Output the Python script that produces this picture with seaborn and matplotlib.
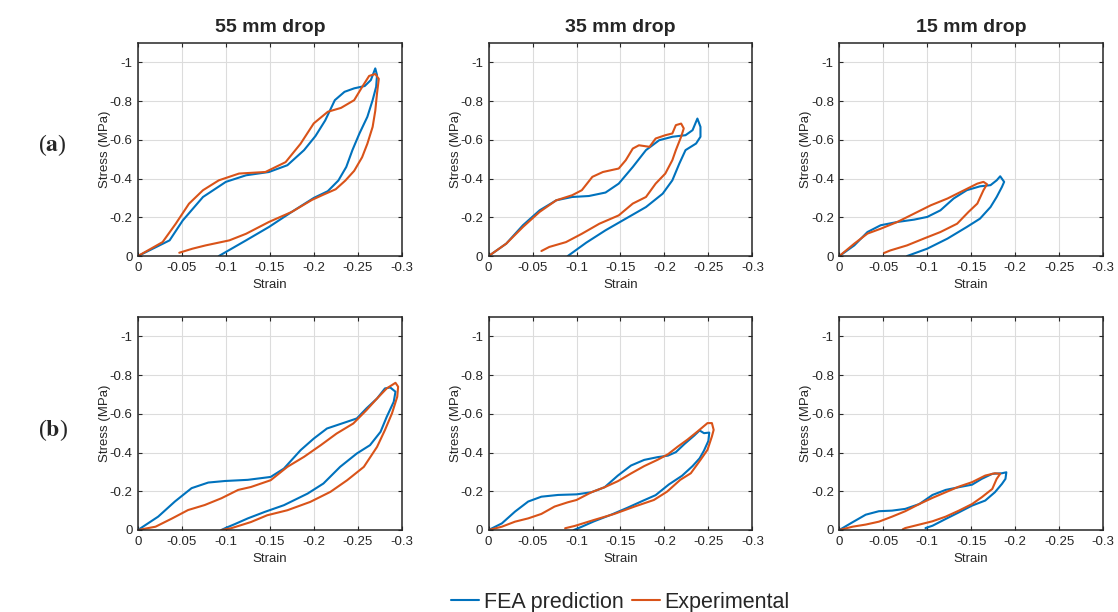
import numpy as np
import matplotlib
matplotlib.use("Agg")
import matplotlib.pyplot as plt
import seaborn as sns

# drop heights (columns) and row tags
drops = ['55 mm drop', '35 mm drop', '15 mm drop']
row_tags = ['a', 'b']
series_names = ['FEA prediction', 'Experimental']

x_ticks = [0, -0.05, -0.1, -0.15, -0.2, -0.25, -0.3]
x_tick_labels = ['0', '-0.05', '-0.1', '-0.15', '-0.2', '-0.25', '-0.3']
y_ticks = [0, -0.2, -0.4, -0.6, -0.8, -1.0]
y_tick_labels = ['0', '-0.2', '-0.4', '-0.6', '-0.8', '-1']

# ---- row (a) ----
a55_fea_strain = [0, -0.02, -0.036, -0.051, -0.074, -0.1, -0.123, -0.149, -0.17, -0.189, -0.202, -0.213, -0.224, -0.235, -0.246, -0.258, -0.265, -0.27, -0.272,
                  -0.271, -0.267, -0.261, -0.252, -0.244, -0.237, -0.228, -0.216, -0.2, -0.175, -0.149, -0.123, -0.1, -0.092]
a55_fea_stress = [0, -0.045, -0.081, -0.184, -0.305, -0.383, -0.417, -0.434, -0.469, -0.547, -0.62, -0.7, -0.805, -0.848, -0.866, -0.878, -0.909, -0.969, -0.934,
                  -0.874, -0.805, -0.719, -0.633, -0.547, -0.46, -0.39, -0.335, -0.3, -0.228, -0.15, -0.081, -0.021, 0]
a55_exp_strain = [0, -0.028, -0.043, -0.058, -0.074, -0.092, -0.115, -0.145, -0.168, -0.185, -0.2, -0.216, -0.231, -0.246, -0.256, -0.263, -0.27, -0.274,
                  -0.272, -0.27, -0.267, -0.261, -0.255, -0.246, -0.236, -0.225, -0.21, -0.198, -0.175, -0.149, -0.123, -0.104, -0.077, -0.062, -0.047]
a55_exp_stress = [0, -0.072, -0.167, -0.27, -0.34, -0.391, -0.426, -0.434, -0.485, -0.58, -0.685, -0.745, -0.765, -0.805, -0.88, -0.93, -0.94, -0.915,
                  -0.84, -0.75, -0.667, -0.58, -0.51, -0.44, -0.39, -0.345, -0.315, -0.29, -0.228, -0.176, -0.115, -0.081, -0.055, -0.038, -0.017]

a35_fea_strain = [0, -0.02, -0.039, -0.058, -0.077, -0.095, -0.114, -0.133, -0.148, -0.164, -0.179, -0.194, -0.209, -0.224, -0.232, -0.2375, -0.241,
                  -0.241, -0.236, -0.224, -0.217, -0.209, -0.198, -0.179, -0.156, -0.133, -0.111, -0.09]
a35_fea_stress = [0, -0.064, -0.159, -0.236, -0.288, -0.305, -0.31, -0.328, -0.374, -0.46, -0.547, -0.598, -0.616, -0.624, -0.65, -0.71, -0.667,
                  -0.616, -0.581, -0.547, -0.478, -0.391, -0.322, -0.253, -0.193, -0.133, -0.069, 0]
a35_exp_strain = [0, -0.02, -0.039, -0.058, -0.077, -0.095, -0.106, -0.118, -0.13, -0.148, -0.156, -0.164, -0.171, -0.183, -0.19, -0.201, -0.209, -0.213, -0.219, -0.222,
                  -0.219, -0.213, -0.209, -0.201, -0.19, -0.179, -0.164, -0.148, -0.126, -0.106, -0.088, -0.069, -0.06]
a35_exp_stress = [0, -0.064, -0.15, -0.228, -0.288, -0.314, -0.34, -0.409, -0.434, -0.452, -0.495, -0.555, -0.572, -0.564, -0.607, -0.624, -0.633, -0.676, -0.684, -0.659,
                  -0.616, -0.547, -0.495, -0.426, -0.374, -0.305, -0.271, -0.21, -0.167, -0.115, -0.072, -0.047, -0.026]

a15_fea_strain = [0, -0.017, -0.032, -0.047, -0.066, -0.085, -0.1, -0.115, -0.13, -0.145, -0.16, -0.172, -0.179, -0.183, -0.1875,
                  -0.185, -0.179, -0.172, -0.16, -0.145, -0.123, -0.1, -0.077]
a15_fea_stress = [0, -0.055, -0.124, -0.159, -0.176, -0.188, -0.202, -0.236, -0.297, -0.34, -0.36, -0.366, -0.391, -0.412, -0.383,
                  -0.357, -0.305, -0.253, -0.193, -0.15, -0.09, -0.038, 0]
a15_exp_strain = [0, -0.017, -0.032, -0.047, -0.066, -0.085, -0.104, -0.123, -0.142, -0.157, -0.164, -0.168,
                  -0.164, -0.157, -0.147, -0.134, -0.115, -0.096, -0.077, -0.058, -0.051]
a15_exp_stress = [0, -0.064, -0.116, -0.141, -0.176, -0.219, -0.262, -0.297, -0.34, -0.374, -0.383, -0.371,
                  -0.34, -0.271, -0.228, -0.167, -0.124, -0.09, -0.055, -0.029, -0.016]

# ---- row (b) ----
b55_fea_strain = [0, -0.023, -0.042, -0.061, -0.08, -0.099, -0.125, -0.151, -0.166, -0.185, -0.2, -0.215, -0.234, -0.249, -0.26, -0.272, -0.281, -0.287, -0.293,
                  -0.291, -0.283, -0.276, -0.264, -0.249, -0.23, -0.211, -0.193, -0.166, -0.144, -0.125, -0.11, -0.099, -0.095]
b55_fea_stress = [0, -0.069, -0.147, -0.216, -0.245, -0.253, -0.259, -0.274, -0.317, -0.412, -0.472, -0.524, -0.553, -0.576, -0.628, -0.679, -0.731, -0.736, -0.714,
                  -0.662, -0.584, -0.507, -0.438, -0.395, -0.326, -0.24, -0.188, -0.128, -0.093, -0.06, -0.03, -0.009, 0]
b55_exp_strain = [0, -0.02, -0.039, -0.057, -0.076, -0.095, -0.114, -0.1285, -0.151, -0.17, -0.189, -0.208, -0.226, -0.245, -0.26, -0.272, -0.283, -0.293, -0.296,
                  -0.295, -0.289, -0.281, -0.272, -0.257, -0.238, -0.219, -0.196, -0.17, -0.147, -0.1285, -0.106, -0.095]
b55_exp_stress = [0, -0.017, -0.06, -0.103, -0.129, -0.164, -0.207, -0.222, -0.257, -0.326, -0.378, -0.438, -0.498, -0.55, -0.619, -0.679, -0.731, -0.76, -0.74,
                  -0.688, -0.602, -0.516, -0.429, -0.326, -0.257, -0.197, -0.145, -0.102, -0.076, -0.041, -0.009, 0]

b35_fea_strain = [0, -0.015, -0.03, -0.045, -0.06, -0.079, -0.1, -0.117, -0.132, -0.147, -0.162, -0.177, -0.192, -0.204, -0.213, -0.223, -0.234, -0.24, -0.245, -0.251,
                  -0.25, -0.245, -0.24, -0.232, -0.22, -0.205, -0.19, -0.175, -0.158, -0.14, -0.12, -0.105, -0.097]
b35_fea_stress = [0, -0.034, -0.095, -0.147, -0.172, -0.181, -0.184, -0.195, -0.221, -0.281, -0.333, -0.362, -0.376, -0.384, -0.402, -0.445, -0.488, -0.514, -0.5, -0.503,
                  -0.46, -0.41, -0.37, -0.33, -0.28, -0.235, -0.18, -0.15, -0.115, -0.08, -0.045, -0.015, 0]
b35_exp_strain = [0, -0.015, -0.03, -0.045, -0.06, -0.075, -0.09, -0.1, -0.117, -0.132, -0.147, -0.162, -0.177, -0.192, -0.204, -0.215, -0.226, -0.238, -0.249, -0.254, -0.256,
                  -0.254, -0.249, -0.241, -0.23, -0.218, -0.203, -0.188, -0.166, -0.143, -0.12, -0.098, -0.087]
b35_exp_stress = [0, -0.017, -0.043, -0.06, -0.083, -0.121, -0.143, -0.155, -0.195, -0.221, -0.252, -0.292, -0.33, -0.362, -0.391, -0.43, -0.466, -0.51, -0.552, -0.552, -0.517,
                  -0.483, -0.414, -0.362, -0.293, -0.259, -0.198, -0.155, -0.121, -0.083, -0.052, -0.021, -0.009]

b15_fea_strain = [0, -0.015, -0.03, -0.045, -0.06, -0.075, -0.091, -0.106, -0.121, -0.136, -0.151, -0.162, -0.174, -0.185, -0.19,
                  -0.189, -0.185, -0.177, -0.166, -0.151, -0.136, -0.121, -0.106, -0.098]
b15_fea_stress = [0, -0.04, -0.079, -0.097, -0.1, -0.109, -0.134, -0.181, -0.207, -0.221, -0.234, -0.264, -0.29, -0.293, -0.298,
                  -0.264, -0.238, -0.195, -0.152, -0.126, -0.091, -0.057, -0.022, -0.01]
b15_exp_strain = [0, -0.015, -0.03, -0.045, -0.06, -0.075, -0.091, -0.106, -0.121, -0.136, -0.151, -0.166, -0.177, -0.183,
                  -0.179, -0.174, -0.162, -0.151, -0.136, -0.121, -0.106, -0.091, -0.075, -0.072]
b15_exp_stress = [0, -0.017, -0.028, -0.043, -0.069, -0.097, -0.134, -0.166, -0.195, -0.224, -0.247, -0.281, -0.293, -0.29,
                  -0.264, -0.212, -0.169, -0.134, -0.1, -0.069, -0.045, -0.028, -0.01, -0.003]

panels = [
    [(a55_fea_strain, a55_fea_stress, a55_exp_strain, a55_exp_stress),
     (a35_fea_strain, a35_fea_stress, a35_exp_strain, a35_exp_stress),
     (a15_fea_strain, a15_fea_stress, a15_exp_strain, a15_exp_stress)],
    [(b55_fea_strain, b55_fea_stress, b55_exp_strain, b55_exp_stress),
     (b35_fea_strain, b35_fea_stress, b35_exp_strain, b35_exp_stress),
     (b15_fea_strain, b15_fea_stress, b15_exp_strain, b15_exp_stress)],
]

blue = '#0072BD'
orange = '#D95319'

sns.set_theme(style="ticks")
plt.rcParams['font.family'] = ['Liberation Sans', 'DejaVu Sans']
plt.rcParams['mathtext.fontset'] = 'stix'

fig, axes = plt.subplots(2, 3, figsize=(11.18, 6.12), dpi=100)
plt.subplots_adjust(left=0.1234, right=0.9866, bottom=0.134, top=0.9297, wspace=0.33, hspace=0.286)

for r in range(2):
    for c in range(3):
        ax = axes[r, c]
        fx, fy, ex, ey = panels[r][c]
        sns.lineplot(x=fx, y=fy, sort=False, estimator=None, color=blue, lw=1.5, ax=ax)
        sns.lineplot(x=ex, y=ey, sort=False, estimator=None, color=orange, lw=1.5, ax=ax)
        ax.set_xlim(0, -0.3)
        ax.set_ylim(0, -1.1)
        ax.set_xticks(x_ticks)
        ax.set_xticklabels(x_tick_labels)
        ax.set_yticks(y_ticks)
        ax.set_yticklabels(y_tick_labels)
        ax.grid(True, color='#dcdcdc', lw=0.8)
        ax.tick_params(direction='in', top=True, right=True, length=3, width=0.8,
                       labelsize=9.5, colors='#262626', pad=4)
        for s in ax.spines.values():
            s.set_color('#262626')
            s.set_linewidth(1.1)
        ax.set_xlabel('Strain', fontsize=9.5, color='#262626', labelpad=4)
        ax.set_ylabel('Stress (MPa)', fontsize=9.5, color='#262626', labelpad=-1)
        if r == 0:
            ax.set_title(drops[c], fontsize=14, fontweight='bold', pad=8)

for tag, yy in zip(row_tags, [0.763, 0.297]):
    fig.text(0.047, yy, '(' + r'$\mathbf{' + tag + '}$' + ')', fontsize=17,
             family=['Liberation Serif', 'DejaVu Serif'], ha='center', va='center')

handles = [plt.Line2D([], [], color=blue, lw=1.5), plt.Line2D([], [], color=orange, lw=1.5)]
fig.legend(handles, series_names, loc='lower center', bbox_to_anchor=(0.555, -0.033), ncol=2,
           frameon=False, fontsize=15.5, handlelength=1.3, handletextpad=0.2, columnspacing=0.4)

plt.savefig('out.png', dpi=100)
